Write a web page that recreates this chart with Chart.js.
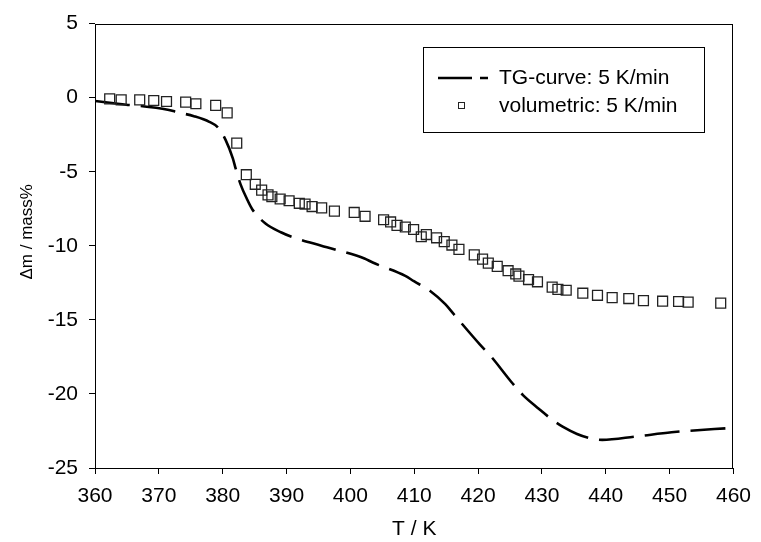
<!DOCTYPE html>
<html>
<head>
<meta charset="utf-8">
<script src="https://cdn.jsdelivr.net/npm/chart.js@4.4.0/dist/chart.umd.min.js"></script>
<style>
  html, body { margin: 0; padding: 0; background: #fff; }
  #wrap { width: 761px; height: 542px; }
</style>
</head>
<body>
<div id="wrap"><canvas id="c" width="761" height="542"></canvas></div>
<script>
// TG-curve (dashed line), T / K and mass change / mass%
const tgT = [360, 364.9, 366.2, 371.4, 372.8, 375.5, 377.9, 379.3, 380.45, 381.6, 382.0, 382.8, 383.8, 384.6, 386.7, 389.2, 390.8, 395.45, 397.3, 402.2, 403.5, 408.6, 409.95, 412.5, 414.86, 416.16, 420.3, 421.85, 425.48, 427.03, 429.5, 431.7, 433.24, 435.5, 437.9, 439.45, 444.6, 450.3, 457.0, 460];
const tgM = [-0.22, -0.48, -0.52, -0.81, -0.97, -1.25, -1.63, -2.03, -2.85, -4.11, -4.74, -5.85, -6.84, -7.51, -8.5, -9.1, -9.39, -9.99, -10.21, -10.86, -11.13, -12.03, -12.39, -13.05, -13.94, -14.6, -16.67, -17.38, -19.33, -20.08, -21.0, -21.77, -22.21, -22.7, -23.03, -23.1, -22.88, -22.59, -22.37, -22.3];

// volumetric (open squares)
const volT = [362.3, 364.1, 367.0, 369.2, 371.2, 374.2, 375.8, 378.9, 380.7, 382.2, 383.7, 385.1, 386.1, 387.1, 387.7, 389.0, 390.4, 392.0, 392.9, 394.0, 395.5, 397.5, 400.6, 402.3, 405.2, 406.3, 407.3, 408.6, 409.9, 411.1, 411.9, 413.5, 414.7, 415.9, 417.0, 419.4, 420.7, 421.6, 423.0, 424.7, 425.9, 426.4, 427.9, 429.3, 431.6, 432.5, 433.8, 436.4, 438.7, 441.0, 443.6, 445.9, 448.9, 451.4, 452.9, 458.0];
const volM = [-0.08, -0.15, -0.15, -0.19, -0.26, -0.30, -0.41, -0.52, -1.03, -3.07, -5.2, -5.85, -6.24, -6.56, -6.69, -6.84, -6.96, -7.13, -7.18, -7.35, -7.44, -7.66, -7.75, -8.01, -8.24, -8.39, -8.62, -8.73, -8.9, -9.39, -9.24, -9.46, -9.72, -9.95, -10.24, -10.61, -10.9, -11.17, -11.39, -11.68, -11.9, -12.05, -12.28, -12.43, -12.79, -12.94, -13.0, -13.2, -13.34, -13.5, -13.56, -13.7, -13.74, -13.76, -13.8, -13.87];

const seriesNames = ['TG-curve: 5 K/min', 'volumetric: 5 K/min'];
const xTitle = 'T / K';
const yTitle = '\u0394m / mass%';
const xRange = [360, 460], xStep = 10;
const yRange = [-25, 5], yStep = 5;

const FONT = "'Liberation Sans', Arial, Helvetica, sans-serif";

const framePlugin = {
  id: 'frame',
  afterDraw(chart) {
    const ctx = chart.ctx, a = chart.chartArea;
    ctx.save();
    ctx.strokeStyle = '#000';
    ctx.lineWidth = 1;
    ctx.setLineDash([]);
    ctx.strokeRect(Math.round(a.left) + 0.5, Math.round(a.top) + 0.5, Math.round(a.right - a.left) - 1, Math.round(a.bottom - a.top));

    // y axis title
    ctx.save();
    ctx.fillStyle = '#000';
    ctx.font = '17px ' + FONT;
    ctx.textAlign = 'center';
    ctx.textBaseline = 'middle';
    ctx.translate(a.left - 68, (a.top + a.bottom) / 2 - 14);
    ctx.rotate(-Math.PI / 2);
    ctx.fillText(yTitle, 0, 0);
    ctx.restore();

    // legend
    const bx = a.left + 328, by = 47;
    const bw = 281, bh = 85;
    ctx.fillStyle = '#fff';
    ctx.fillRect(bx, by, bw, bh);
    ctx.strokeRect(bx + 0.5, by + 0.5, bw, bh);
    const ds = chart.data.datasets;
    const y1 = by + 31, y2 = by + 59;
    ctx.beginPath();
    ctx.setLineDash([34, 8, 8, 100]);
    ctx.lineWidth = 2.6;
    ctx.moveTo(bx + 15, y1);
    ctx.lineTo(bx + 65, y1);
    ctx.stroke();
    ctx.setLineDash([]);
    ctx.lineWidth = 1;
    ctx.strokeStyle = '#222';
    ctx.strokeRect(bx + 35.5, y2 - 3.5, 6, 6);
    ctx.fillStyle = '#000';
    ctx.font = '21px ' + FONT;
    ctx.textBaseline = 'middle';
    ctx.textAlign = 'left';
    ctx.fillText(ds[0].label, bx + 76, y1);
    ctx.fillText(ds[1].label, bx + 76, y2);
    ctx.restore();
  }
};

new Chart(document.getElementById('c'), {
  type: 'scatter',
  data: {
    datasets: [
      {
        type: 'line',
        label: seriesNames[0],
        data: tgT.map((t, i) => ({ x: t, y: tgM[i] })),
        borderColor: '#000',
        borderWidth: 2.6,
        borderDash: [35, 11],
        pointRadius: 0,
        fill: false,
        cubicInterpolationMode: 'monotone',
        order: 2
      },
      {
        label: seriesNames[1],
        data: volT.map((t, i) => ({ x: t, y: volM[i] })),
        pointStyle: 'rect',
        pointRadius: 7,
        pointBorderWidth: 1.3,
        pointBorderColor: '#222',
        pointBackgroundColor: 'rgba(255,255,255,0)',
        showLine: false,
        order: 1
      }
    ]
  },
  options: {
    responsive: false,
    animation: false,
    events: [],
    layout: { padding: { left: 0, right: 22, top: 17, bottom: 0 } },
    plugins: { legend: { display: false }, tooltip: { enabled: false } },
    scales: {
      x: {
        type: 'linear',
        min: xRange[0], max: xRange[1],
        ticks: { stepSize: xStep, color: '#000', font: { family: FONT, size: 21 }, padding: 10, maxRotation: 0 },
        grid: { drawOnChartArea: false, drawTicks: true, tickLength: 6, color: '#000' },
        border: { display: false },
        title: { display: true, text: xTitle, color: '#000', font: { family: FONT, size: 21 }, padding: { top: 4, bottom: 0 } },
        afterFit(s) { s.height = 74; }
      },
      y: {
        min: yRange[0], max: yRange[1],
        ticks: { stepSize: yStep, color: '#000', font: { family: FONT, size: 21 }, padding: 11 },
        grid: { drawOnChartArea: false, drawTicks: true, tickLength: 6, color: '#000' },
        border: { display: false },
        title: { display: false },
        afterFit(s) { s.width = 95; }
      }
    }
  },
  plugins: [framePlugin]
});
</script>
</body>
</html>
